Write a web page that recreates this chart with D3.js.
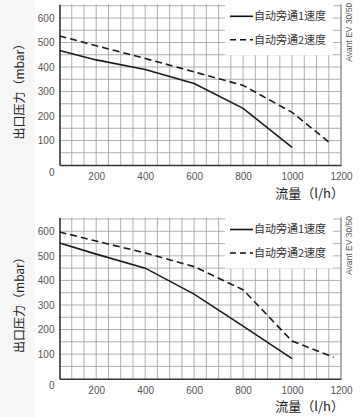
<!DOCTYPE html>
<html><head><meta charset="utf-8">
<script src="https://cdn.jsdelivr.net/npm/d3@7"></script>
<style>body{margin:0;background:#fff}svg{display:block}</style>
</head><body>
<svg id="c" width="360" height="417"></svg>
<script>
const xTicks = [200, 400, 600, 800, 1000, 1200];
const yTicks = [0, 100, 200, 300, 400, 500, 600];
const legendLabels = ["自动旁通1速度", "自动旁通2速度"];
const modelLabel = "Avant EV 30/50";
const yTitle = "出口压力（mbar）";
const xTitle = "流量（l/h）";

const topFlow1 = [50, 200, 400, 600, 800, 1000];
const topSpeed1 = [467, 429, 390, 333, 231, 72];
const topFlow2 = [50, 200, 400, 600, 800, 1000, 1160];
const topSpeed2 = [527, 487, 435, 380, 325, 215, 86];

const botFlow1 = [50, 200, 400, 600, 800, 1000];
const botSpeed1 = [552, 507, 450, 344, 214, 82];
const botFlow2 = [50, 200, 400, 600, 800, 1000, 1170];
const botSpeed2 = [597, 560, 512, 456, 362, 153, 87];

const svg = d3.select("#c");
svg.append("rect").attr("x",0).attr("y",0).attr("width",35).attr("height",417).attr("fill","#f7f7f7");

function panel(top, bottom, s1x, s1y, s2x, s2y) {
  const g = svg.append("g");
  const x = d3.scaleLinear().domain([50, 1200]).range([59.5, 341]);
  const y = d3.scaleLinear().domain([0, 656]).range([bottom, top]);
  const grid = g.append("g").attr("stroke", "#9a9a9a").attr("stroke-width", 0.8);
  d3.range(100, 1201, 50).forEach(v => grid.append("line")
    .attr("x1", x(v)).attr("x2", x(v)).attr("y1", top).attr("y2", bottom));
  d3.range(50, 651, 50).forEach(v => grid.append("line")
    .attr("x1", x(50)).attr("x2", x(1200)).attr("y1", y(v)).attr("y2", y(v)));

  // legend box
  g.append("rect").attr("x", 225).attr("y", top).attr("width", 108).attr("height", 51).attr("fill", "#fff");
  const leg = [{dash: null, dy: 12}, {dash: "6,4", dy: 35.5}];
  leg.forEach((l, i) => {
    g.append("line").attr("x1", 230).attr("x2", 253).attr("y1", top + l.dy).attr("y2", top + l.dy)
      .attr("stroke", "#111").attr("stroke-width", 1.6).attr("stroke-dasharray", l.dash);
    g.append("text").attr("x", 254).attr("y", top + l.dy).attr("dy", "0.35em")
      .attr("font-family", "Noto Sans CJK SC").attr("font-size", 11).attr("fill", "#333")
      .text(legendLabels[i]);
  });

  // axes
  const ax = g.append("g").attr("transform", `translate(0,${bottom})`)
    .call(d3.axisBottom(x).tickValues(xTicks).tickFormat(d3.format("d")).tickSize(0).tickPadding(8));
  ax.select(".domain").attr("stroke", "#333").attr("stroke-width", 1.6);
  ax.selectAll("text").attr("font-family", "Liberation Sans").attr("font-size", 10).attr("fill", "#555");
  const ay = g.append("g").attr("transform", `translate(${x(50)},0)`)
    .call(d3.axisLeft(y).tickValues(yTicks).tickFormat(d3.format("d")).tickSize(0).tickPadding(5));
  ay.select(".domain").attr("stroke", "#333").attr("stroke-width", 1.6);
  ay.selectAll("text").attr("font-family", "Liberation Sans").attr("font-size", 10).attr("fill", "#555");
  ay.selectAll(".tick").filter(d => d === 0).select("text").attr("dy", "1em").attr("x", -5);
  g.append("line").attr("x1", x(1200)).attr("x2", x(1200)).attr("y1", top).attr("y2", bottom)
    .attr("stroke", "#888").attr("stroke-width", 1);

  const line = d3.line().x(d => x(d[0])).y(d => y(d[1]));
  g.append("path").datum(s1x.map((v, i) => [v, s1y[i]])).attr("d", line)
    .attr("fill", "none").attr("stroke", "#1a1a1a").attr("stroke-width", 1.6);
  g.append("path").datum(s2x.map((v, i) => [v, s2y[i]])).attr("d", line)
    .attr("fill", "none").attr("stroke", "#1a1a1a").attr("stroke-width", 1.6).attr("stroke-dasharray", "7,4");

  // titles
  g.append("text").attr("transform", `translate(24,${(top + bottom) / 2 + 4}) rotate(-90)`)
    .attr("text-anchor", "middle").attr("font-family", "Noto Sans CJK SC").attr("font-size", 12)
    .attr("fill", "#222").text(yTitle);
  g.append("text").attr("x", 344).attr("y", bottom + 28).attr("dy", "0.35em").attr("text-anchor", "end")
    .attr("font-family", "Noto Sans CJK SC").attr("font-size", 13).attr("fill", "#222").text(xTitle);
  g.append("text").attr("transform", `translate(352,${top + 28}) rotate(-90)`)
    .attr("text-anchor", "middle").attr("font-family", "Liberation Sans").attr("font-size", 8.5)
    .attr("fill", "#555").text(modelLabel);
}

panel(4.3, 165, topFlow1, topSpeed1, topFlow2, topSpeed2);
panel(217.5, 378.7, botFlow1, botSpeed1, botFlow2, botSpeed2);
</script>
</body></html>
